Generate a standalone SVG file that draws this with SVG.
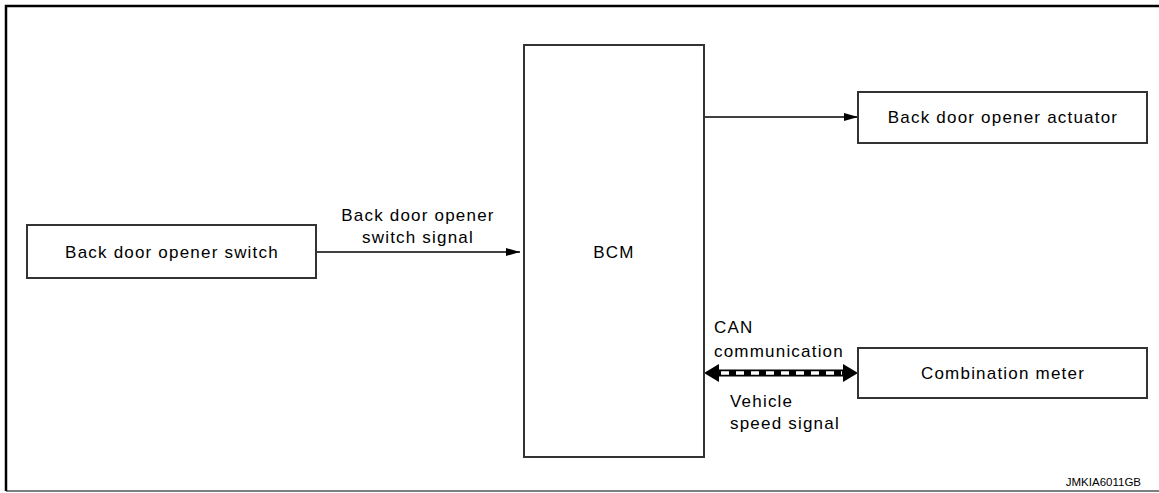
<svg xmlns="http://www.w3.org/2000/svg" width="1159" height="493" viewBox="0 0 1159 493">
<defs>
<style>
.box{fill:#fff;stroke:#333;stroke-width:2}
.t{font-family:"Liberation Sans",Arial,sans-serif;font-size:17px;letter-spacing:1.2px;fill:#000}
.c{text-anchor:middle}
.ln{stroke:#000;stroke-width:1.3;fill:none}
</style>
<marker id="ah" markerWidth="14" markerHeight="8" refX="14" refY="4" orient="auto" markerUnits="userSpaceOnUse">
<path d="M0,0 L14,4 L0,8 Z" fill="#000"/>
</marker>
</defs>
<rect x="0" y="0" width="1159" height="493" fill="#fff"/>
<g id="frame">
<path d="M6,491 V6 H1159" fill="none" stroke="#000" stroke-width="2.5"/>
<line x1="6" y1="491" x2="1159" y2="491" stroke="#000" stroke-width="1.2"/>
</g>
<g id="connectors">
<line class="ln" x1="316" y1="252" x2="520" y2="252" marker-end="url(#ah)"/>
<line class="ln" x1="704" y1="117" x2="858" y2="117" marker-end="url(#ah)"/>
<g id="can">
<line x1="716" y1="373" x2="846" y2="373" stroke="#000" stroke-width="7"/>
<line x1="721" y1="373" x2="842" y2="373" stroke="#fff" stroke-width="3.5" stroke-dasharray="8,7"/>
<path d="M704,373 L719,364 L719,382 Z" fill="#000"/>
<path d="M858,373 L843,364 L843,382 Z" fill="#000"/>
</g>
</g>
<g id="switch">
<rect class="box" x="27" y="225" width="289" height="53"/>
<text class="t c" x="172" y="258">Back door opener switch</text>
</g>
<g id="bcm">
<rect class="box" x="524" y="45" width="180" height="412"/>
<text class="t c" x="614" y="258">BCM</text>
</g>
<g id="actuator">
<rect class="box" x="858" y="92" width="289" height="51"/>
<text class="t c" x="1003" y="123">Back door opener actuator</text>
</g>
<g id="meter">
<rect class="box" x="858" y="348" width="289" height="50"/>
<text class="t c" x="1003" y="379">Combination meter</text>
</g>
<g id="labels">
<text class="t c" x="418" y="221">Back door opener</text>
<text class="t c" x="418" y="243">switch signal</text>
<text class="t" x="714" y="333">CAN</text>
<text class="t" x="714" y="357">communication</text>
<text class="t" x="730" y="407">Vehicle</text>
<text class="t" x="730" y="429">speed signal</text>
<text x="1141" y="486" style="font-family:'Liberation Sans',Arial,sans-serif;font-size:11.5px;text-anchor:end">JMKIA6011GB</text>
</g>
</svg>
